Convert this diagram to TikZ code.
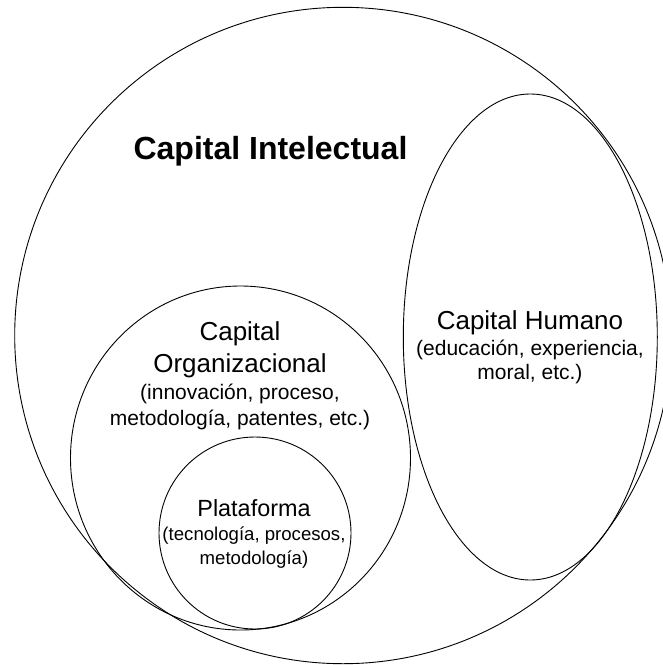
\documentclass[tikz,border=0pt]{standalone}
\usepackage{fontspec}
\setmainfont{Liberation Sans}
\begin{document}
\begin{tikzpicture}[x=1pt,y=-1pt,
  ring/.style={draw=black,line width=0.9pt},
  titletext/.style={font=\fontsize{32}{37}\bfseries\selectfont,anchor=base},
  bigtext/.style={font=\fontsize{26}{30}\selectfont,anchor=base},
  smalltext/.style={font=\fontsize{21}{25}\selectfont,anchor=base},
  platbig/.style={font=\fontsize{23.4}{27}\selectfont,anchor=base},
  platsmall/.style={font=\fontsize{18.6}{22}\selectfont,anchor=base}]
\useasboundingbox[fill=white] (0,0) rectangle (663,665);

% outer set and the three inner regions
\draw[ring] (343,335.5) ellipse [x radius=328.3, y radius=328.2];
\draw[ring] (530.3,337) ellipse [x radius=127, y radius=243];
\draw[ring] (240.5,458) ellipse [x radius=170, y radius=172];
\draw[ring] (255,533) ellipse [x radius=96, y radius=96];

% labels
\node[titletext] (ci) at (270.5,159.8) {Capital Intelectual};

\node[bigtext]   (ch1) at (530,329) {Capital Humano};
\node[smalltext] (ch2) at (530,355) {(educación, experiencia,};
\node[smalltext] (ch3) at (530,379) {moral, etc.)};

\node[bigtext]   (co1) at (240,340.8) {Capital};
\node[bigtext]   (co2) at (240,372) {Organizacional};
\node[smalltext] (co3) at (240,399.6) {(innovación, proceso,};
\node[smalltext] (co4) at (240,425) {metodología, patentes, etc.)};

\node[platbig]   (pl1) at (254,516.7) {Plataforma};
\node[platsmall] (pl2) at (254,540.4) {(tecnología, procesos,};
\node[platsmall] (pl3) at (254,564.5) {metodología)};
\end{tikzpicture}
\end{document}
